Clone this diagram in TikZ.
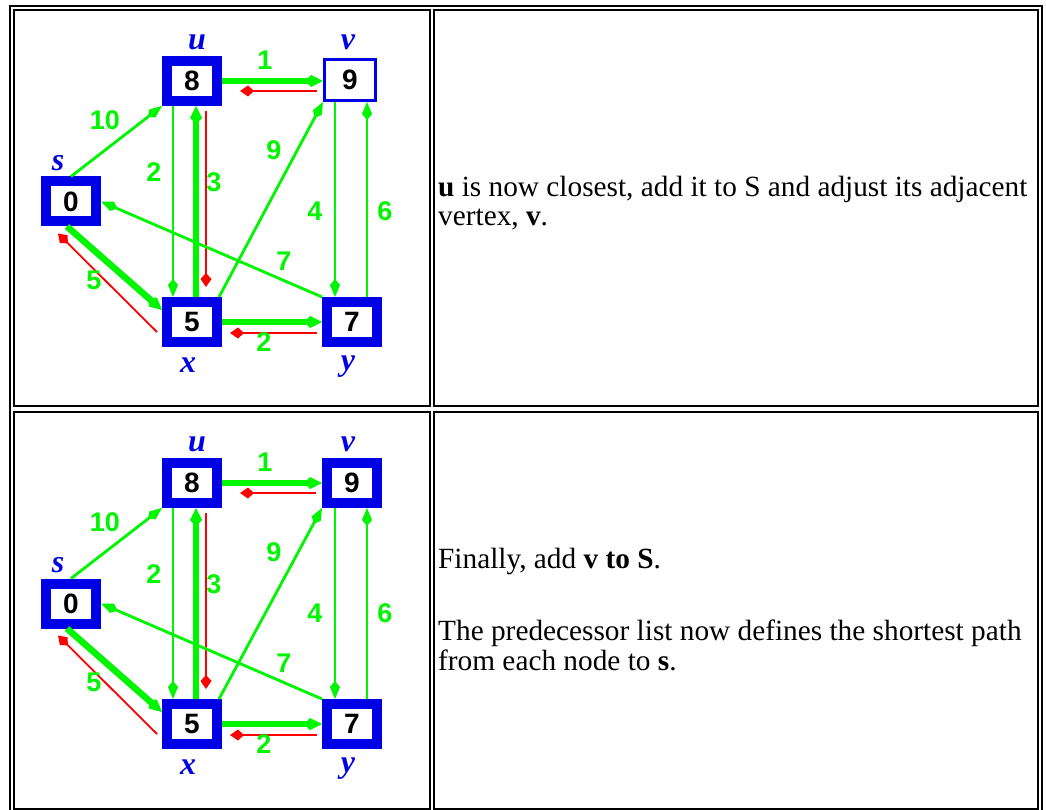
\documentclass[tikz,border=0pt]{standalone}
\usepackage{fontspec}
\setmainfont{Liberation Serif}
\newfontfamily\gsans{Liberation Sans}
\usetikzlibrary{arrows.meta,calc}
\definecolor{gblue}{RGB}{0,0,230}
\definecolor{ggreen}{RGB}{0,245,0}
\definecolor{gred}{RGB}{255,0,0}
\tikzset{
  vbox/.style={draw=gblue, line width=10pt, fill=white, minimum width=50pt, minimum height=40pt, inner sep=0pt, font=\gsans\bfseries\fontsize{28}{28}\selectfont},
  vthin/.style={draw=gblue, line width=3pt, fill=white, minimum width=51pt, minimum height=41pt, inner sep=0pt, font=\gsans\bfseries\fontsize{28}{28}\selectfont},
  thinedge/.style={draw=ggreen, line width=2.8pt, -{Kite[length=18pt,width=10pt,inset=6pt]}},
  thickedge/.style={draw=ggreen, line width=6.5pt, -{Kite[length=18pt,width=12pt,inset=6pt]}},
  prededge/.style={draw=gred, line width=1.8pt, -{Kite[length=14pt,width=11pt,inset=6pt]}},
  wlab/.style={text=ggreen, font=\gsans\bfseries\fontsize{27}{27}\selectfont, inner sep=0pt},
  nlab/.style={text=gblue, font=\bfseries\itshape\fontsize{32}{32}\selectfont, inner sep=0pt},
  para/.style={anchor=base west, inner sep=0pt, font=\fontsize{29.3}{30}\selectfont},
  cellrule/.style={draw=black, line width=2pt},
}
\newcommand\dijkgraph[4]{%
  \node[vbox] (s) at (71,{201.5+#4}) {0};
  \node[vbox] (u) at (192,{81+#4}) {8};
  \node[#1] (v) at (#2,{#3+#4}) {9};
  \node[vbox] (x) at (192,{322+#4}) {5};
  \node[vbox] (y) at (352,{322+#4}) {7};
  \coordinate (c4) at ($(y.north)+(-17,0)$);
  \coordinate (c6) at ($(y.north)+(15,0)$);
  \draw[thinedge] (s.north) -- (u.south west);
  \draw[thickedge] ($(s.south)+(-4,0)$) -- ($(x.west)+(0,-12)$);
  \draw[prededge] ($(x.west)+(-5,10)$) -- ($(s.south)+(-13,7)$);
  \draw[thickedge] (u.east) -- (u.east -| v.west);
  \draw[prededge] ($(u.east -| v.west)+(-6,10)$) -- ($(u.east)+(18,10)$);
  \draw[thinedge] ($(u.south)+(-19,0)$) -- ($(x.north)+(-19,0)$);
  \draw[thickedge] ($(x.north)+(4,0)$) -- ($(u.south)+(4,0)$);
  \draw[prededge] ($(u.south)+(14,5)$) -- ($(x.north)+(14,-10)$);
  \draw[thinedge] ($(x.north east)+(-3,0)$) -- (v.south west);
  \draw[thinedge] (c4 |- v.south) -- (c4);
  \draw[thinedge] (c6) -- (c6 |- v.south);
  \draw[thinedge] (y.north west) -- (s.east);
  \draw[thickedge] (x.east) -- (x.east -| y.west);
  \draw[prededge] ($(x.east -| y.west)+(-5,11)$) -- ($(x.east)+(8,11)$);
  \node[wlab] (w10) at (105,{120+#4}) {10};
  \node[wlab] (w1) at (265,{60+#4}) {1};
  \node[wlab] (w2) at (154,{172+#4}) {2};
  \node[wlab] (w3) at (214,{182+#4}) {3};
  \node[wlab] (w9) at (274,{150+#4}) {9};
  \node[wlab] (w4) at (315,{211+#4}) {4};
  \node[wlab] (w6) at (385,{211+#4}) {6};
  \node[wlab] (w7) at (284,{261+#4}) {7};
  \node[wlab] (w5) at (94,{280+#4}) {5};
  \node[wlab] (w2b) at (264,{342+#4}) {2};
  \node[nlab] (lu) at (197,{42+#4}) {u};
  \node[nlab] (lv) at (348,{42+#4}) {v};
  \node[nlab] (ls) at (58,{163+#4}) {s};
  \node[nlab] (lx) at (188,{365+#4}) {x};
  \node[nlab] (ly) at (348,{367+#4}) {y};
}
\begin{document}
\begin{tikzpicture}[x=1pt,y=-1pt]
\fill[white] (0,0) rectangle (1046,810);
\useasboundingbox (0,0) rectangle (1046,810);
\draw[cellrule] (10,6) rectangle (1042,815);
\draw[cellrule] (14,10) rectangle (430,406);
\draw[cellrule] (434,10) rectangle (1038,406);
\draw[cellrule] (14,412) rectangle (430,809);
\draw[cellrule] (434,412) rectangle (1038,809);
\begin{scope}[name prefix=a-]
\dijkgraph{vthin}{350}{80}{0}
\end{scope}
\begin{scope}[name prefix=b-]
\dijkgraph{vbox}{352}{81}{402}
\end{scope}
\node[para] (t1) at (438,197) {\textbf{u} is now closest, add it to S and adjust its adjacent};
\node[para] (t2) at (438,226) {vertex, \textbf{v}.};
\node[para] (t3) at (438,568) {Finally, add \textbf{v to S}.};
\node[para] (t4) at (438,640) {The predecessor list now defines the shortest path};
\node[para] (t5) at (438,670) {from each node to \textbf{s}.};
\end{tikzpicture}
\end{document}
